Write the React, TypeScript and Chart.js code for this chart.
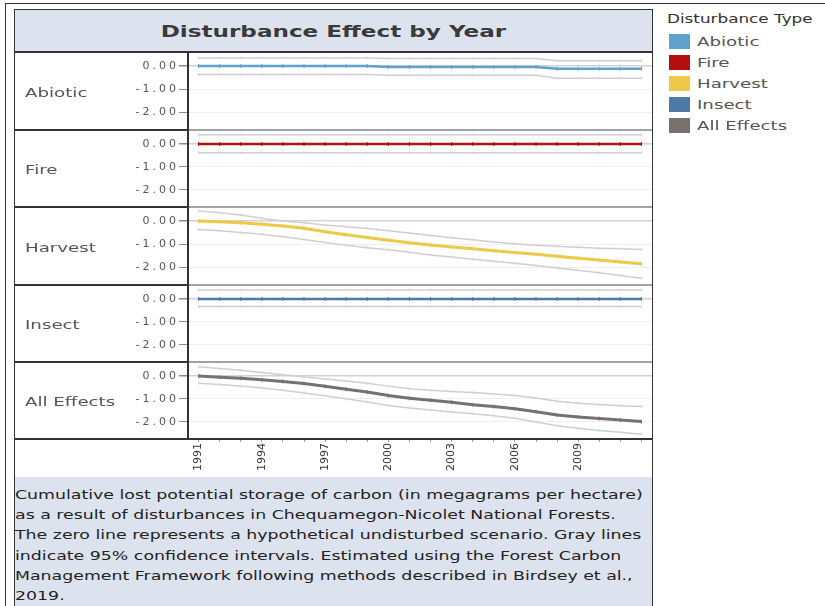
import React, { useEffect, useRef } from 'react';
import { Chart, registerables } from 'chart.js';

Chart.register(...registerables);

// ---- data -------------------------------------------------------------
const years = [1991, 1992, 1993, 1994, 1995, 1996, 1997, 1998, 1999, 2000, 2001, 2002, 2003, 2004, 2005, 2006, 2007, 2008, 2009, 2010, 2011, 2012];
const labelledYears = [1991, 1994, 1997, 2000, 2003, 2006, 2009];
const yTickValues = [0, -1, -2];

const facetNames = ['Abiotic', 'Fire', 'Harvest', 'Insect', 'All Effects'];
const facetColors = ['#5fa2ce', '#b30f0f', '#edc948', '#4e79a7', '#79706e'];

const abiotic = [0, 0, 0, 0, 0, 0, 0, 0, 0, -0.04, -0.04, -0.04, -0.04, -0.04, -0.04, -0.04, -0.04, -0.12, -0.12, -0.12, -0.12, -0.12];
const abioticUpper = [0.35, 0.35, 0.35, 0.35, 0.35, 0.35, 0.35, 0.35, 0.35, 0.33, 0.33, 0.33, 0.33, 0.33, 0.33, 0.33, 0.33, 0.23, 0.23, 0.23, 0.23, 0.23];
const abioticLower = [-0.37, -0.37, -0.37, -0.37, -0.37, -0.37, -0.37, -0.37, -0.37, -0.4, -0.4, -0.4, -0.4, -0.4, -0.4, -0.4, -0.4, -0.53, -0.53, -0.53, -0.53, -0.53];

const fire = [0, 0, 0, 0, 0, 0, 0, 0, 0, 0, 0, 0, 0, 0, 0, 0, 0, 0, 0, 0, 0, 0];
const fireUpper = [0.4, 0.4, 0.4, 0.4, 0.4, 0.4, 0.4, 0.4, 0.4, 0.4, 0.4, 0.4, 0.4, 0.4, 0.4, 0.4, 0.4, 0.4, 0.4, 0.4, 0.4, 0.4];
const fireLower = [-0.38, -0.38, -0.38, -0.38, -0.38, -0.38, -0.38, -0.38, -0.38, -0.38, -0.38, -0.38, -0.38, -0.38, -0.38, -0.38, -0.38, -0.38, -0.38, -0.38, -0.38, -0.38];

const harvest = [0.0, -0.03, -0.08, -0.14, -0.22, -0.32, -0.47, -0.6, -0.72, -0.84, -0.95, -1.04, -1.13, -1.21, -1.29, -1.37, -1.45, -1.53, -1.62, -1.7, -1.78, -1.86];
const harvestUpper = [0.43, 0.36, 0.26, 0.12, 0.0, -0.08, -0.17, -0.25, -0.33, -0.42, -0.52, -0.63, -0.73, -0.82, -0.91, -0.99, -1.05, -1.1, -1.14, -1.18, -1.21, -1.24];
const harvestLower = [-0.37, -0.42, -0.5, -0.58, -0.68, -0.8, -0.93, -1.05, -1.16, -1.25, -1.36, -1.48, -1.57, -1.66, -1.75, -1.84, -1.94, -2.04, -2.14, -2.25, -2.37, -2.49];

const insect = [0, 0, 0, 0, 0, 0, 0, 0, 0, 0, 0, 0, 0, 0, 0, 0, 0, 0, 0, 0, 0, 0];
const insectUpper = [0.39, 0.39, 0.39, 0.39, 0.39, 0.39, 0.39, 0.39, 0.39, 0.39, 0.39, 0.39, 0.39, 0.39, 0.39, 0.39, 0.39, 0.39, 0.39, 0.39, 0.39, 0.39];
const insectLower = [-0.33, -0.33, -0.33, -0.33, -0.33, -0.33, -0.33, -0.33, -0.33, -0.33, -0.33, -0.33, -0.33, -0.33, -0.33, -0.33, -0.33, -0.33, -0.33, -0.33, -0.33, -0.33];

const allEffects = [0.0, -0.05, -0.1, -0.16, -0.24, -0.33, -0.45, -0.58, -0.7, -0.85, -0.97, -1.05, -1.14, -1.25, -1.33, -1.42, -1.55, -1.7, -1.78, -1.85, -1.91, -1.98];
const allEffectsUpper = [0.4, 0.33, 0.25, 0.15, 0.05, -0.04, -0.13, -0.22, -0.32, -0.44, -0.55, -0.62, -0.67, -0.72, -0.78, -0.85, -0.96, -1.1, -1.18, -1.24, -1.29, -1.33];
const allEffectsLower = [-0.32, -0.37, -0.44, -0.52, -0.62, -0.74, -0.86, -0.99, -1.13, -1.28, -1.39, -1.48, -1.56, -1.64, -1.73, -1.84, -2.0, -2.16, -2.27, -2.37, -2.45, -2.53];

const facetValues = [abiotic, fire, harvest, insect, allEffects];
const facetUpper = [abioticUpper, fireUpper, harvestUpper, insectUpper, allEffectsUpper];
const facetLower = [abioticLower, fireLower, harvestLower, insectLower, allEffectsLower];

const captionLines = [
  'Cumulative lost potential storage of carbon (in megagrams per hectare)',
  'as a result of disturbances in Chequamegon-Nicolet National Forests.',
  'The zero line represents a hypothetical undisturbed scenario. Gray lines',
  'indicate 95% confidence intervals. Estimated using the Forest Carbon',
  'Management Framework following methods described in Birdsey et al.,',
  '2019.',
];

// ---- layout -----------------------------------------------------------
const FONT = '"DejaVu Sans", Verdana, sans-serif';
const STRETCH = 1.4;
const BAND = '#dde3ee';
const ROW_EDGES = [52, 130, 207, 285, 362, 439];
const AXIS_H = 38;
const PX_PER_UNIT = 23;
const ZERO_OFFSET = 14;
const BOX_LEFT = 15;
const PLOT_LEFT = 188;
const PLOT_RIGHT = 652;

const toPoints = (arr: number[]) => years.map((x, i) => ({ x, y: arr[i] }));

// y labels are spaced out, the rotated year labels (drawn last) are not
const textSpacing = {
  id: 'textSpacing',
  beforeDraw(chart: any) {
    chart.ctx.letterSpacing = '3px';
  },
  afterDatasetsDraw(chart: any) {
    chart.ctx.letterSpacing = '0px';
  },
};

function FacetChart({ index, showAxis }: { index: number; showAxis: boolean }) {
  const ref = useRef<HTMLCanvasElement>(null);
  const top = ROW_EDGES[index];
  const rowH = ROW_EDGES[index + 1] - top;
  const height = rowH + (showAxis ? AXIS_H : 0);
  const width = PLOT_RIGHT - BOX_LEFT;

  useEffect(() => {
    if (!ref.current) return;
    const color = facetColors[index];
    const ciStyle = {
      borderColor: '#cfcfcf',
      borderWidth: 1.5,
      pointStyle: 'line' as const,
      rotation: 90,
      pointRadius: 1.5,
      pointBorderWidth: 1,
      pointBorderColor: '#d6d6d6',
      pointBackgroundColor: '#d6d6d6',
      tension: 0,
      fill: false,
    };
    const chart = new Chart(ref.current, {
      type: 'line',
      data: {
        datasets: [
          { label: 'upper', data: toPoints(facetUpper[index]), ...ciStyle },
          { label: 'lower', data: toPoints(facetLower[index]), ...ciStyle },
          {
            label: facetNames[index],
            data: toPoints(facetValues[index]),
            borderColor: color,
            borderWidth: index === 2 || index === 4 ? 3 : 2.5,
            pointStyle: 'line',
            rotation: 90,
            pointRadius: 2,
            pointBorderWidth: 1,
            pointBorderColor: color,
            pointBackgroundColor: color,
            tension: 0,
            fill: false,
          },
        ],
      },
      options: {
        animation: false,
        responsive: false,
        maintainAspectRatio: false,
        devicePixelRatio: 1,
        layout: { padding: 0, autoPadding: false },
        plugins: { legend: { display: false }, tooltip: { enabled: false } },
        scales: {
          x: {
            type: 'linear',
            min: 1990.5,
            max: 2012.5,
            display: showAxis,
            afterBuildTicks: (s: any) => {
              s.ticks = years.map((v) => ({ value: v }));
            },
            afterFit: (s: any) => {
              s.height = showAxis ? AXIS_H : 0;
              s.paddingLeft = 0;
              s.paddingRight = 0;
              s.paddingTop = 0;
              s.paddingBottom = 0;
            },
            grid: { drawOnChartArea: false, tickLength: 3, tickColor: '#9a9a9a', lineWidth: 1 },
            border: { display: false },
            ticks: {
              z: 1,
              autoSkip: false,
              minRotation: 90,
              maxRotation: 90,
              padding: 1,
              color: '#333',
              font: { family: FONT, size: 11 },
              callback: (v: any) => (labelledYears.includes(Number(v)) ? String(v) : ''),
            },
          },
          y: {
            type: 'linear',
            min: -(rowH - ZERO_OFFSET) / PX_PER_UNIT,
            max: ZERO_OFFSET / PX_PER_UNIT,
            afterBuildTicks: (s: any) => {
              s.ticks = yTickValues.map((v) => ({ value: v }));
            },
            afterFit: (s: any) => {
              s.width = PLOT_LEFT - BOX_LEFT;
              s.paddingTop = 0;
              s.paddingBottom = 0;
              s.paddingLeft = 0;
              s.paddingRight = 0;
            },
            grid: {
              color: (c: any) => (c.tick && c.tick.value === 0 ? '#d2d2d2' : '#efefef'),
              lineWidth: (c: any) => (c.tick && c.tick.value === 0 ? 1.5 : 1),
              tickColor: '#8a8a8a',
              tickLength: 9,
            },
            border: { display: false },
            ticks: {
              padding: 0,
              color: '#555',
              font: { family: FONT, size: 11 },
              callback: (v: any) => Number(v).toFixed(2),
            },
          },
        },
      },
      plugins: [textSpacing],
    });
    return () => chart.destroy();
  }, [index, rowH, showAxis]);

  return (
    <canvas
      ref={ref}
      width={width}
      height={height}
      style={{ position: 'absolute', left: BOX_LEFT, top, width, height, display: 'block' }}
    />
  );
}

function Wide({ children, origin = '0 50%', style = {} }: any) {
  return (
    <span
      style={{
        display: 'inline-block',
        whiteSpace: 'nowrap',
        transform: `scaleX(${STRETCH})`,
        transformOrigin: origin,
        ...style,
      }}
    >
      {children}
    </span>
  );
}

const abs = (s: any) => ({ position: 'absolute' as const, ...s });

export default function App() {
  return (
    <div
      style={{
        position: 'fixed',
        left: 0,
        top: 0,
        width: 825,
        height: 606,
        overflow: 'hidden',
        background: '#fff',
        fontFamily: FONT,
      }}
    >
      {/* outer frame */}
      <div style={abs({ left: 5, top: 3, width: 900, height: 700, borderLeft: '1.5px solid #333', borderTop: '1.5px solid #333' })} />

      {/* title band */}
      <div
        style={abs({
          left: BOX_LEFT,
          top: 10,
          width: PLOT_RIGHT - BOX_LEFT,
          height: 42,
          background: BAND,
          display: 'flex',
          alignItems: 'center',
          justifyContent: 'center',
        })}
      >
        <Wide origin="50% 50%" style={{ fontSize: 16.5, fontWeight: 'bold', color: '#3a3a3a' }}>
          Disturbance Effect by Year
        </Wide>
      </div>

      {/* facet charts */}
      {facetNames.map((name, i) => (
        <FacetChart key={name} index={i} showAxis={i === facetNames.length - 1} />
      ))}

      {/* facet labels */}
      {facetNames.map((name, i) => (
        <div
          key={'lbl' + name}
          style={abs({
            left: 25,
            top: ROW_EDGES[i],
            height: ROW_EDGES[i + 1] - ROW_EDGES[i],
            display: 'flex',
            alignItems: 'center',
            fontSize: 13,
            color: '#555',
            paddingTop: 2,
            boxSizing: 'border-box',
          })}
        >
          <Wide>{name}</Wide>
        </div>
      ))}

      {/* row dividers */}
      {ROW_EDGES.slice(1, -1).map((y) => (
        <React.Fragment key={'sep' + y}>
          <div style={abs({ left: BOX_LEFT, top: y - 1, width: PLOT_LEFT - BOX_LEFT, height: 2, background: '#333' })} />
          <div style={abs({ left: PLOT_LEFT, top: y - 1, width: PLOT_RIGHT - PLOT_LEFT, height: 2, background: '#a3a3a3' })} />
        </React.Fragment>
      ))}
      <div style={abs({ left: BOX_LEFT, top: ROW_EDGES[0] - 1, width: PLOT_RIGHT - BOX_LEFT, height: 2, background: '#333' })} />
      <div style={abs({ left: BOX_LEFT, top: ROW_EDGES[5] - 1, width: PLOT_RIGHT - BOX_LEFT, height: 2, background: '#333' })} />
      <div style={abs({ left: PLOT_LEFT - 1, top: ROW_EDGES[0], width: 2, height: ROW_EDGES[5] - ROW_EDGES[0], background: '#333' })} />

      {/* caption band */}
      <div style={abs({ left: BOX_LEFT, top: 477, width: PLOT_RIGHT - BOX_LEFT, height: 140, background: BAND })}>
        <div style={{ paddingTop: 8, fontSize: 12.4, lineHeight: '20.2px', color: '#222' }}>
          {captionLines.map((line) => (
            <div key={line}>
              <Wide>{line}</Wide>
            </div>
          ))}
        </div>
      </div>

      {/* inner frame */}
      <div style={abs({ left: 14, top: 9, width: PLOT_RIGHT - 14 + 1, height: 700, border: '1.5px solid #333', boxSizing: 'border-box' })} />

      {/* legend */}
      <div style={abs({ left: 667, top: 11, fontSize: 12, color: '#333', lineHeight: '16px' })}>
        <Wide>Disturbance Type</Wide>
      </div>
      {facetNames.map((name, i) => (
        <div key={'leg' + name} style={abs({ left: 669, top: 33 + i * 21.1, height: 16, display: 'flex', alignItems: 'center' })}>
          <div style={{ width: 21, height: 15, background: facetColors[i] }} />
          <div style={{ marginLeft: 7, fontSize: 13, color: '#555' }}>
            <Wide>{name}</Wide>
          </div>
        </div>
      ))}
    </div>
  );
}
